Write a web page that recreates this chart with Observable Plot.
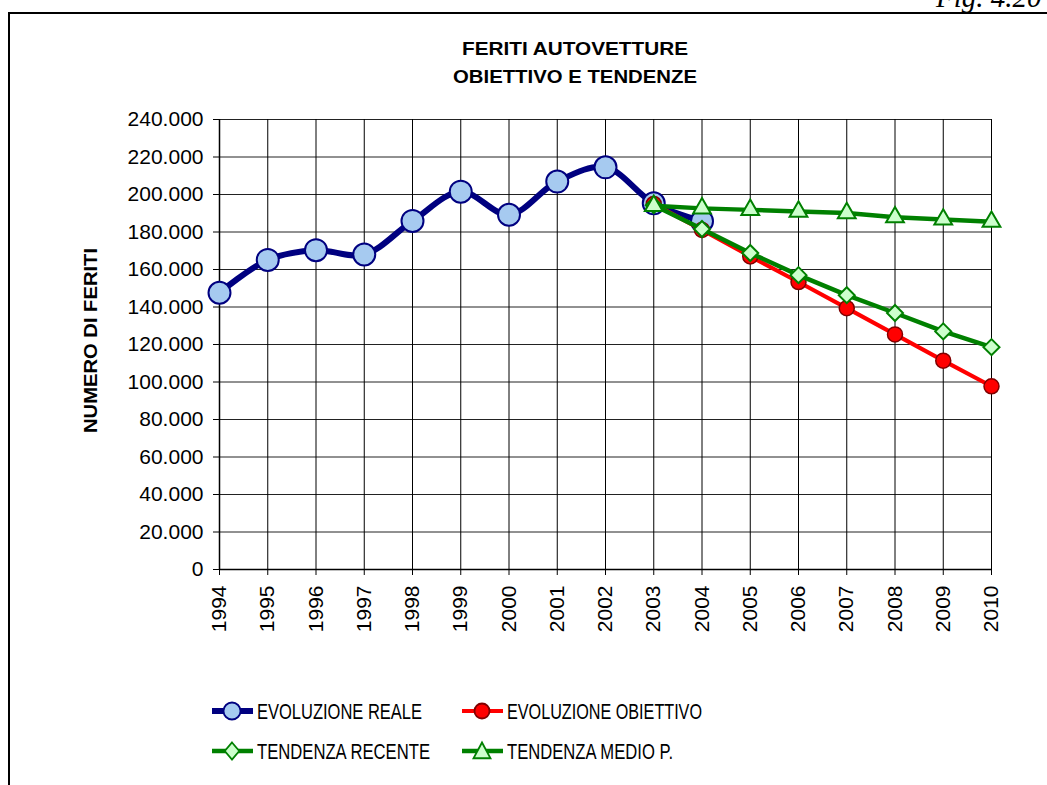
<!DOCTYPE html>
<html>
<head>
<meta charset="utf-8">
<script src="https://cdn.jsdelivr.net/npm/d3@7"></script>
<script src="https://cdn.jsdelivr.net/npm/@observablehq/plot@0.6"></script>
<style>
  html, body { margin: 0; padding: 0; background: #fff; }
  #wrap { position: relative; width: 1047px; height: 785px; overflow: hidden; background: #fff; }
  #wrap > svg { position: absolute; left: 0; top: 0; }
</style>
</head>
<body>
<div id="wrap"></div>
<script>
// ---- data ----
const years = [1994, 1995, 1996, 1997, 1998, 1999, 2000, 2001, 2002, 2003, 2004, 2005, 2006, 2007, 2008, 2009, 2010];
const realeYears = [1994, 1995, 1996, 1997, 1998, 1999, 2000, 2001, 2002, 2003, 2004];
const realeValues = [147600, 165100, 170300, 168000, 185900, 201500, 189200, 206900, 214500, 195300, 185800];
const trendYears = [2003, 2004, 2005, 2006, 2007, 2008, 2009, 2010];
const obiettivoValues = [195000, 181100, 167000, 153300, 139400, 125400, 111400, 97700];
const recenteValues = [194300, 181600, 168800, 157000, 146300, 136800, 127000, 118600];
const medioValues = [194000, 192600, 191800, 190900, 190100, 187900, 186700, 185500];
const yTicks = [0, 20000, 40000, 60000, 80000, 100000, 120000, 140000, 160000, 180000, 200000, 220000, 240000];
const seriesNames = ["EVOLUZIONE REALE", "EVOLUZIONE OBIETTIVO", "TENDENZA RECENTE", "TENDENZA MEDIO P."];
const titleLines = ["FERITI AUTOVETTURE", "OBIETTIVO E TENDENZE"];
const yLabel = "NUMERO DI FERITI";
const figLabel = "Fig. 4.20";

const toRows = (xs, vs) => xs.map((x, i) => ({year: x, value: vs[i]}));
const reale = toRows(realeYears, realeValues);
const obiettivo = toRows(trendYears, obiettivoValues);
const recente = toRows(trendYears, recenteValues);
const medio = toRows(trendYears, medioValues);

const fmt = d => d3.format(",.0f")(d).replace(/,/g, ".");
const FONT = "'Liberation Sans', Arial, sans-serif";

const chart = Plot.plot({
  width: 1047,
  height: 785,
  marginLeft: 219,
  marginRight: 56,
  marginTop: 119,
  marginBottom: 216,
  style: {fontFamily: FONT, fontSize: "21px", color: "#000", background: "transparent"},
  x: {type: "linear", domain: [1994, 2010]},
  y: {domain: [0, 240000]},
  marks: [
    Plot.gridY(yTicks, {stroke: "#222", strokeOpacity: 1, strokeWidth: 1}),
    Plot.gridX(years, {stroke: "#000", strokeOpacity: 1, strokeWidth: 1}),
    Plot.ruleX([1994], {stroke: "#000", strokeWidth: 1.5}),
    Plot.ruleY([0], {stroke: "#000", strokeWidth: 1.5}),
    Plot.axisY(yTicks, {tickFormat: fmt, tickSize: 6, tickPadding: 10, label: null, fontSize: 21, stroke: "#000"}),
    Plot.axisX(years, {tickFormat: d => String(d), tickRotate: -90, tickSize: 6, tickPadding: 10, label: null, fontSize: 21}),
    Plot.line(reale, {x: "year", y: "value", stroke: "#000080", strokeWidth: 6, curve: "catmull-rom"}),
    Plot.dot(reale, {x: "year", y: "value", r: 11, fill: "#a6caf0", stroke: "#000080", strokeWidth: 2}),
    Plot.line(obiettivo, {x: "year", y: "value", stroke: "#ff0000", strokeWidth: 4}),
    Plot.dot(obiettivo, {x: "year", y: "value", r: 7.5, fill: "#ff0000", stroke: "#800000", strokeWidth: 1.5}),
    Plot.line(recente, {x: "year", y: "value", stroke: "#008000", strokeWidth: 4.5}),
    Plot.dot(recente, {x: "year", y: "value", symbol: "diamond2", r: 7.2, fill: "#ccffcc", stroke: "#008000", strokeWidth: 2}),
    Plot.line(medio, {x: "year", y: "value", stroke: "#008000", strokeWidth: 4.5}),
    Plot.dot(medio, {x: "year", y: "value", symbol: "triangle", r: 6.6, fill: "#ccffcc", stroke: "#008000", strokeWidth: 2})
  ]
});
const wrap = document.getElementById("wrap");
wrap.appendChild(chart);

// ---- overlay: frame, titles, axis label, legend ----
const ov = d3.select(wrap).append("svg")
  .attr("width", 1047).attr("height", 785)
  .style("font-family", FONT);

ov.append("path").attr("d", "M9,785V13H1047").attr("fill", "none").attr("stroke", "#000").attr("stroke-width", 2);

ov.append("text").attr("x", 936).attr("y", 7)
  .style("font-family", "'Liberation Serif', 'DejaVu Serif', serif")
  .style("font-style", "italic").style("font-size", "29px").text(figLabel);

const titleY = [55, 83], titleLen = [226, 244];
titleLines.forEach((t, i) => {
  ov.append("text").attr("x", 575).attr("y", titleY[i]).attr("text-anchor", "middle")
    .attr("textLength", titleLen[i]).attr("lengthAdjust", "spacingAndGlyphs")
    .style("font-weight", "bold").style("font-size", "18.5px").text(t);
});

ov.append("text").attr("transform", "translate(97,340.5) rotate(-90)").attr("text-anchor", "middle")
  .attr("textLength", 185).attr("lengthAdjust", "spacingAndGlyphs")
  .style("font-weight", "bold").style("font-size", "18px").text(yLabel);

// legend
const legendItems = [
  {name: seriesNames[0], x: 212, y: 711, stroke: "#000080", sw: 6, sym: "circle", r: 8.5, fill: "#a6caf0", mstroke: "#000080", len: 165},
  {name: seriesNames[1], x: 462, y: 711, stroke: "#ff0000", sw: 4, sym: "circle", r: 7.5, fill: "#ff0000", mstroke: "#800000", len: 195},
  {name: seriesNames[2], x: 212, y: 751, stroke: "#008000", sw: 4.5, sym: "diamond", r: 8.5, fill: "#ccffcc", mstroke: "#008000", len: 173},
  {name: seriesNames[3], x: 462, y: 751, stroke: "#008000", sw: 4.5, sym: "triangle", r: 8.5, fill: "#ccffcc", mstroke: "#008000", len: 166}
];
legendItems.forEach(it => {
  const g = ov.append("g").attr("transform", `translate(${it.x},${it.y})`);
  g.append("line").attr("x1", 0).attr("x2", 41).attr("y1", 0).attr("y2", 0)
    .attr("stroke", it.stroke).attr("stroke-width", it.sw);
  let d;
  if (it.sym === "circle") d = d3.symbol(d3.symbolCircle, Math.PI * it.r * it.r)();
  else if (it.sym === "diamond") d = `M0,${-it.r}L${it.r*0.85},0L0,${it.r}L${-it.r*0.85},0Z`;
  else d = `M0,${-it.r}L${it.r},${it.r*0.85}L${-it.r},${it.r*0.85}Z`;
  g.append("path").attr("d", d).attr("transform", "translate(20,0)")
    .attr("fill", it.fill).attr("stroke", it.mstroke).attr("stroke-width", 1.8);
  g.append("text").attr("x", 45).attr("y", 8)
    .attr("textLength", it.len).attr("lengthAdjust", "spacingAndGlyphs")
    .style("font-size", "22px").text(it.name);
});
</script>
</body>
</html>
